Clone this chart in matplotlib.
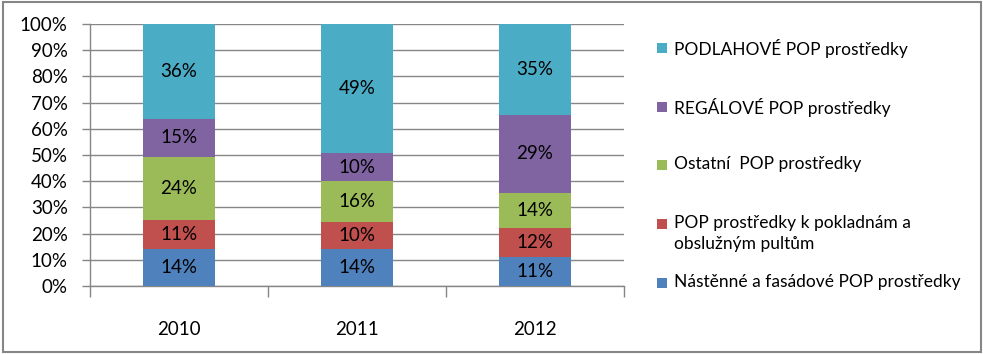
import matplotlib
matplotlib.use("Agg")
import matplotlib.pyplot as plt
from matplotlib.patches import Rectangle
from matplotlib.ticker import FixedLocator, PercentFormatter
import numpy as np

plt.rcParams['font.family'] = ['Lato', 'DejaVu Sans']

years = ["2010", "2011", "2012"]
series_names = [
    "Nástěnné a fasádové POP prostředky",
    "POP prostředky k pokladnám a\nobslužným pultům",
    "Ostatní  POP prostředky",
    "REGÁLOVÉ POP prostředky",
    "PODLAHOVÉ POP prostředky",
]
# segment shares (%)
nastenne = [14.0, 14.2, 10.9]
pokladny = [11.2, 10.4, 11.4]
ostatni = [23.9, 15.5, 13.2]
regalove = [14.8, 10.5, 29.8]
podlahove = [36.1, 49.4, 34.7]
# percentages printed on the bars
lbl_nastenne = ["14%", "14%", "11%"]
lbl_pokladny = ["11%", "10%", "12%"]
lbl_ostatni = ["24%", "16%", "14%"]
lbl_regalove = ["15%", "10%", "29%"]
lbl_podlahove = ["36%", "49%", "35%"]

colors = ["#4F81BD", "#C0504D", "#9BBB59", "#8064A2", "#4BACC6"]

W, H = 983, 354
fig = plt.figure(figsize=(W / 100, H / 100), dpi=100)
ax = fig.add_axes([90 / W, 1 - 286 / H, (624 - 90) / W, (286 - 24) / H])

data = np.array([nastenne, pokladny, ostatni, regalove, podlahove], dtype=float)
labels = [lbl_nastenne, lbl_pokladny, lbl_ostatni, lbl_regalove, lbl_podlahove]
shares = data / data.sum(axis=0) * 100
x = np.arange(len(years))
bottom = np.zeros(len(years))
fs = 13.5
for i in range(len(series_names)):
    bars = ax.bar(x, shares[i], 0.4, bottom=bottom, color=colors[i], zorder=3)
    ax.bar_label(bars, labels=labels[i], label_type="center",
                 fontsize=fs, color="black")
    bottom += shares[i]

ax.set_xlim(-0.5, len(years) - 0.5)
ax.set_ylim(0, 100)
ax.yaxis.set_major_locator(FixedLocator(np.arange(0, 101, 10)))
ax.yaxis.set_major_formatter(PercentFormatter(decimals=0))
ax.grid(axis="y", color="#868686", linewidth=1, zorder=0)
ax.set_xticks(x)
ax.set_xticklabels(years)
ax.set_xticks(np.arange(-0.5, len(years)), minor=True)
ax.tick_params(axis="x", which="major", length=0, pad=25, labelsize=fs)
ax.tick_params(axis="x", which="minor", length=8, color="#868686", width=1)
ax.tick_params(axis="y", length=6, color="#868686", width=1, labelsize=fs, pad=10)
for s in ["top", "right"]:
    ax.spines[s].set_visible(False)
for s in ["left", "bottom"]:
    ax.spines[s].set_color("#868686")
    ax.spines[s].set_linewidth(1)

# legend (manual, reversed order)
entries = [(4, 48), (3, 107), (2, 165), (1, 224), (0, 283)]
for idx, ypx in entries:
    fig.patches.append(Rectangle((657 / W, 1 - (ypx + 5) / H), 10 / W, 10 / H,
                                 transform=fig.transFigure, facecolor=colors[idx],
                                 edgecolor="none"))
    fig.text(674 / W, 1 - (ypx - 9) / H, series_names[idx], fontsize=12.5,
             va="top", ha="left", linespacing=1.35)

fig.patches.append(Rectangle((3 / W, 2 / H), (981 - 3) / W, (352 - 2) / H,
                             transform=fig.transFigure, facecolor="none",
                             edgecolor="#868686", linewidth=1.5))

fig.savefig("out.png", dpi=100)
